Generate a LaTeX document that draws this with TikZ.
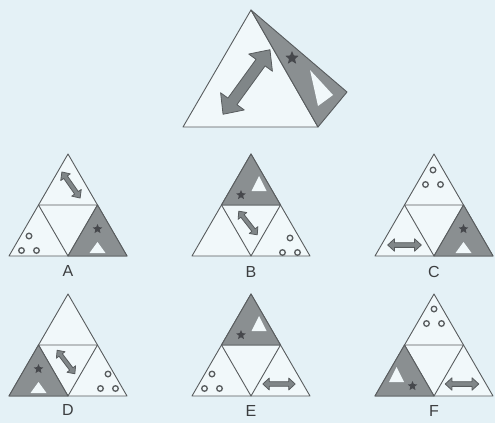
\documentclass[tikz,border=0pt]{standalone}
\usepackage{fontspec}
\setsansfont{Liberation Sans}
\usepackage{tikz}
\usetikzlibrary{shapes.geometric}
\definecolor{bgcol}{RGB}{228,241,246}
\definecolor{paper}{RGB}{241,248,250}
\definecolor{edgegray}{RGB}{88,92,94}
\definecolor{flapgray}{RGB}{138,143,145}
\definecolor{arrowgray}{RGB}{128,134,136}
\definecolor{stargray}{RGB}{70,72,76}
\definecolor{labelgray}{RGB}{60,62,64}
\tikzset{
  panel/.style={draw=edgegray,line width=0.9pt,fill=paper,line join=round},
  gridline/.style={draw=edgegray,line width=0.9pt,line join=round},
  flap/.style={fill=flapgray,draw=edgegray,line width=0.9pt,line join=round},
  hole/.style={fill=paper},
  starmark/.style={star,star points=5,star point ratio=2.2,fill=stargray,inner sep=0pt,minimum size=10pt},
  ringmark/.style={draw=edgegray,line width=1.3pt,fill=paper},
  optlabel/.style={font=\sffamily\fontsize{16}{16}\selectfont,text=labelgray},
  dblarrow/.pic={
    \filldraw[fill=arrowgray,draw=edgegray,line width=0.8pt,line join=round]
      (-3,0) -- (-1.8,1.1) -- (-1.8,0.42) -- (1.8,0.42) -- (1.8,1.1) -- (3,0)
      -- (1.8,-1.1) -- (1.8,-0.42) -- (-1.8,-0.42) -- (-1.8,-1.1) -- cycle;}
}
% answer triangle with apex at (#1,#2)
\newcommand{\trigrid}[2]{%
  \filldraw[panel] (#1,#2) -- (#1-59,#2+102) -- (#1+59,#2+102) -- cycle;
  \draw[gridline] (#1-29.5,#2+51) -- (#1+29.5,#2+51) -- (#1,#2+102) -- cycle;}
% grey piece, hole at the bottom
\newcommand{\flapbase}[3]{%
  \filldraw[flap] (#1,#2) -- (#1-29.5,#2+51) -- (#1+29.5,#2+51) -- cycle;
  \fill[hole] (#1,#2+37) -- (#1-8,#2+48) -- (#1+8,#2+48) -- cycle;
  \node[starmark] (#3) at (#1,#2+24) {};}
% grey piece, hole upper right
\newcommand{\flapright}[3]{%
  \filldraw[flap] (#1,#2) -- (#1-29.5,#2+51) -- (#1+29.5,#2+51) -- cycle;
  \fill[hole] (#1+8,#2+22) -- (#1+0.5,#2+37) -- (#1+15.5,#2+37) -- cycle;
  \node[starmark] (#3) at (#1-10,#2+41) {};}
% grey piece, hole upper left
\newcommand{\flapleft}[3]{%
  \filldraw[flap] (#1,#2) -- (#1-29.5,#2+51) -- (#1+29.5,#2+51) -- cycle;
  \fill[hole] (#1-8,#2+22) -- (#1-15.5,#2+37) -- (#1-0.5,#2+37) -- cycle;
  \node[starmark] (#3) at (#1+8,#2+41) {};}
% three small rings
\newcommand{\circletrio}[2]{%
  \draw[ringmark] (#1,#2) circle (2.8pt) (#1-7.5,#2+14.5) circle (2.8pt)
    (#1+7.5,#2+14.5) circle (2.8pt);}
\begin{document}
\begin{tikzpicture}[x=1pt,y=-1pt]
  \fill[bgcol] (0,0) rectangle (495,423);
  \useasboundingbox (0,0) rectangle (495,423);

  % question figure
  \filldraw[panel] (251,10) -- (183,127) -- (318,127) -- cycle;
  \pic[rotate=54,scale=13.3] (bigarrow) at (246.5,82) {dblarrow};
  \filldraw[flap] (251,10) -- (347,92) -- (318,127) -- cycle;
  \fill[hole] (310,70) -- (318,106) -- (333,95) -- cycle;
  \node[starmark,minimum size=14pt] (starTop) at (292,58) {};

  % A
  \trigrid{68}{154}
  \pic[rotate=-55,scale=5.3] (arrA) at (71,185) {dblarrow};
  \circletrio{29}{236}
  \flapbase{97.5}{205}{starA}
  \node[optlabel] (labA) at (68,271) {A};

  % B
  \trigrid{251}{154}
  \flapright{251}{154}{starB}
  \pic[rotate=-52,scale=5] (arrB) at (248,223) {dblarrow};
  \circletrio{290}{238}
  \node[optlabel] (labB) at (251,272) {B};

  % C
  \trigrid{434}{154}
  \circletrio{433}{170}
  \pic[scale=5.6] (arrC) at (404.5,245) {dblarrow};
  \flapbase{463.5}{205}{starC}
  \node[optlabel] (labC) at (434,272) {C};

  % D
  \trigrid{68}{294}
  \flapbase{38.5}{345}{starD}
  \pic[rotate=-53,scale=4.9] (arrD) at (66,362) {dblarrow};
  \circletrio{108}{374}
  \node[optlabel] (labD) at (68,410) {D};

  % E
  \trigrid{251}{294}
  \flapright{251}{294}{starE}
  \circletrio{212}{374}
  \pic[scale=5.4] (arrE) at (279,384) {dblarrow};
  \node[optlabel] (labE) at (251,411) {E};

  % F
  \trigrid{434}{294}
  \circletrio{434}{309}
  \flapleft{404.5}{345}{starF}
  \pic[scale=5.6] (arrF) at (462,384) {dblarrow};
  \node[optlabel] (labF) at (434,411) {F};
\end{tikzpicture}
\end{document}
